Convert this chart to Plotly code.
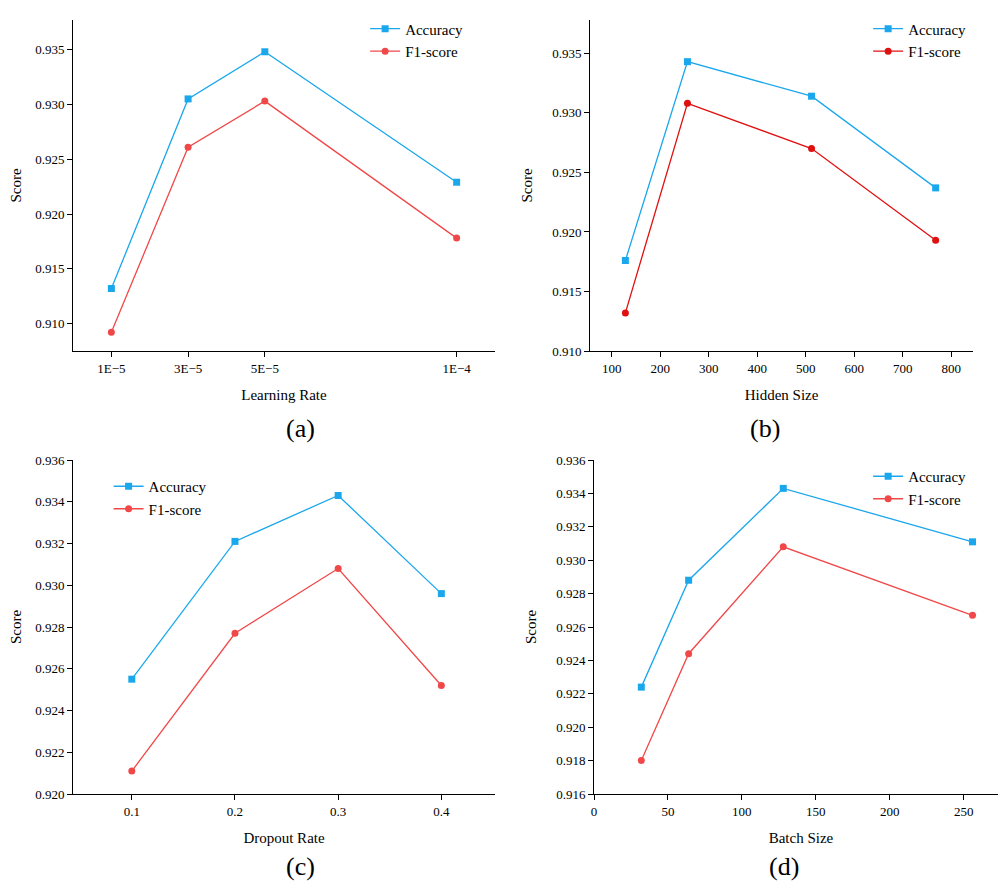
import plotly.graph_objects as go

lr = [1e-5, 3e-5, 5e-5, 1e-4]
lr_labels = ["1E\u22125", "3E\u22125", "5E\u22125", "1E\u22124"]
acc_a = [0.9132, 0.9305, 0.9348, 0.9229]
f1_a = [0.9092, 0.9261, 0.9303, 0.9178]

hidden = [128, 256, 512, 768]
acc_b = [0.9176, 0.9343, 0.9314, 0.9237]
f1_b = [0.9132, 0.9308, 0.9270, 0.9193]

dropout = [0.1, 0.2, 0.3, 0.4]
acc_c = [0.9255, 0.9321, 0.9343, 0.9296]
f1_c = [0.9211, 0.9277, 0.9308, 0.9252]

batch = [32, 64, 128, 256]
acc_d = [0.9224, 0.9288, 0.9343, 0.9311]
f1_d = [0.9180, 0.9244, 0.9308, 0.9267]

W, H = 1006, 883
BLUE = "#1aa7ec"
RED = "#f04848"
FONT = "Liberation Serif"

def dx(a, b): return [a / W, b / W]
def dy(top, bot): return [1 - bot / H, 1 - top / H]

fig = go.Figure()
panels = [
    ("", lr, acc_a, f1_a, RED, dx(65, 487), dy(12, 343), "Learning Rate", [0, 1.1e-4], [0.9075, 0.9377], 0.005, "(a)", 420),
    ("2", hidden, acc_b, f1_b, "#e01010", dx(582, 965), dy(12, 343), "Hidden Size", [55, 845], [0.910, 0.9378], 0.005, "(b)", 420),
    ("3", dropout, acc_c, f1_c, RED, dx(65, 487), dy(452, 786), "Dropout Rate", [0.043, 0.452], [0.920, 0.936], 0.002, "(c)", 858),
    ("4", batch, acc_d, f1_d, RED, dx(586, 1000), dy(452, 786), "Batch Size", [0, 280], [0.916, 0.936], 0.002, "(d)", 858),
]
legpos = {"": (0.85, 0.995), "2": (0.73, 0.995), "3": (0.08, 0.97), "4": (0.64, 0.99)}
for s, xs, acc, f1, fc, xd, yd, xt, xr, yr, dt, lab, ly_px in panels:
    xa, ya = "x" + s, "y" + s
    leg = "legend" + s
    fig.add_trace(go.Scatter(x=xs, y=acc, name="Accuracy", mode="lines+markers",
                             line=dict(color=BLUE, width=1.3), marker=dict(symbol="square", size=7, color=BLUE),
                             xaxis=xa, yaxis=ya, legend=leg))
    fig.add_trace(go.Scatter(x=xs, y=f1, name="F1-score", mode="lines+markers",
                             line=dict(color=fc, width=1.3), marker=dict(symbol="circle", size=7, color=fc),
                             xaxis=xa, yaxis=ya, legend=leg))
    axcommon = dict(showgrid=False, zeroline=False, showline=True, linecolor="black", linewidth=1,
                    automargin=False,
                    ticks="outside", ticklen=5, tickcolor="black", tickfont=dict(family=FONT, size=13, color="black"))
    xkw = dict(domain=xd, range=xr, title=dict(text=xt, standoff=14, font=dict(family=FONT, size=15, color="black")),
               anchor=ya, **axcommon)
    if s == "":
        xkw.update(tickmode="array", tickvals=lr, ticktext=lr_labels)
    elif s == "3":
        xkw.update(tickmode="array", tickvals=dropout, ticktext=["0.1", "0.2", "0.3", "0.4"])
    else:
        xkw.update(dtick=100 if s == "2" else 50, tick0=0)
    ykw = dict(domain=yd, range=yr, dtick=dt, tickformat=".3f",
               title=dict(text="Score", font=dict(family=FONT, size=15, color="black")), anchor=xa, **axcommon)
    fig.layout["xaxis" + s] = xkw
    fig.layout["yaxis" + s] = ykw
    lx, ly = legpos[s]
    fig.layout[leg] = dict(x=xd[0] + lx * (xd[1] - xd[0]) - 0.0, y=yd[0] + ly * (yd[1] - yd[0]),
                           xanchor="left", yanchor="top", bgcolor="rgba(0,0,0,0)",
                           font=dict(family=FONT, size=15, color="black"), tracegroupgap=0)
    fig.add_annotation(text=lab, x=(xd[0] + xd[1]) / 2, y=1 - ly_px / H, xref="paper", yref="paper",
                       yanchor="middle", showarrow=False, font=dict(family=FONT, size=26, color="black"))

fig.layout["legend"].update(x=0.355, y=0.995)
fig.layout["legend2"].update(x=0.855, y=0.995)
fig.layout["legend3"].update(x=0.1, y=1 - 462 / H)
fig.layout["legend4"].update(x=0.855, y=1 - 452 / H)

fig.update_layout(width=W, height=H, margin=dict(l=0, r=0, t=0, b=0),
                  paper_bgcolor="white", plot_bgcolor="white", showlegend=True)
fig.write_html("out.html")
